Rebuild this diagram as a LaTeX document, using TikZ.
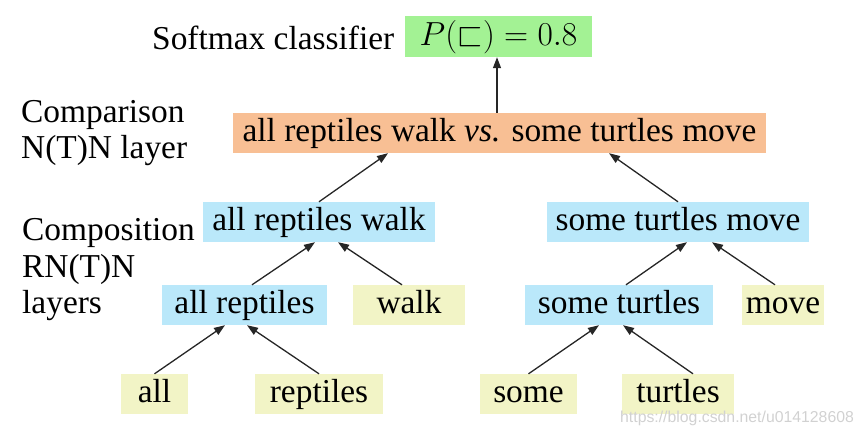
\RequirePackage{fix-cm}
\documentclass[tikz,border=0pt]{standalone}
\usepackage{amssymb}
\usepackage{fontspec}
\setmainfont{Liberation Serif}
\newfontfamily\wmfont{Liberation Sans}
\usetikzlibrary{arrows.meta}
\definecolor{cgreen}{HTML}{A3F294}
\definecolor{corange}{HTML}{F8BF94}
\definecolor{cblue}{HTML}{BAE8FA}
\definecolor{cyellow}{HTML}{F2F4C6}
\begin{document}
\begin{tikzpicture}[x=1pt,y=-1pt,
  box/.style={inner sep=0pt, minimum height=40pt, text height=28pt, text depth=12pt,
              font=\fontsize{33.4}{40}\selectfont},
  gbox/.style={box, fill=cgreen, minimum height=41pt, text height=29pt},
  obox/.style={box, fill=corange},
  bbox/.style={box, fill=cblue},
  ybox/.style={box, fill=cyellow},
  lbl/.style={anchor=base west, inner sep=0pt, font=\fontsize{33.4}{40}\selectfont},
  arr/.style={-{Triangle[length=11pt,width=8pt]}, line width=1.3pt, draw=black!85}
]
\useasboundingbox (0,0) rectangle (864,437);

% side labels
\node[lbl] (softmax) at (152,49) {Softmax classifier};
\node[lbl] (cmp1) at (21,122) {Comparison};
\node[lbl] (cmp2) at (21,158) {N(T)N layer};
\node[lbl] (cps1) at (22,240) {Composition};
\node[lbl] (cps2) at (22,277) {RN(T)N};
\node[lbl] (cps3) at (22,313) {layers};

% nodes
\node[gbox, minimum width=187pt] (green) at (498.5,36.5) {$P(\sqsubset) = 0.8$};
\node[obox, minimum width=533pt] (orange) at (499.5,133) {all reptiles walk \textit{vs.} some turtles move};
\node[bbox, minimum width=232pt] (arw) at (319,222) {all reptiles walk};
\node[bbox, minimum width=262pt] (stm) at (678,222) {some turtles move};
\node[bbox, minimum width=165pt] (ar) at (244.5,305) {all reptiles};
\node[ybox, minimum width=112pt] (walk) at (409,305) {walk};
\node[bbox, minimum width=188pt] (st) at (619,305) {some turtles};
\node[ybox, minimum width=82pt] (move) at (783,305) {move};
\node[ybox, minimum width=67pt] (all) at (154.5,394) {all};
\node[ybox, minimum width=128pt] (rep) at (319,394) {reptiles};
\node[ybox, minimum width=97pt] (some) at (528.5,394) {some};
\node[ybox, minimum width=112pt] (tur) at (678,394) {turtles};

% connectors
\draw[arr] ([xshift=-2.5pt]orange.north) -- ([xshift=-1.5pt]green.south);
\draw[arr] (arw.north) -- ([xshift=-111.5pt]orange.south);
\draw[arr] (stm.north) -- ([xshift=109.5pt]orange.south);
\draw[arr] ([xshift=7.5pt]ar.north) -- ([xshift=-4pt]arw.south);
\draw[arr] ([xshift=-7pt]walk.north) -- ([xshift=19pt]arw.south);
\draw[arr] ([xshift=7pt]st.north) -- ([xshift=9pt]stm.south);
\draw[arr] ([xshift=-8pt]move.north) -- ([xshift=34pt]stm.south);
\draw[arr] (all.north) -- ([xshift=-19.5pt]ar.south);
\draw[arr] (rep.north) -- ([xshift=2.5pt]ar.south);
\draw[arr] (some.north) -- ([xshift=-20pt]st.south);
\draw[arr] ([xshift=15pt]tur.north) -- ([xshift=4pt]st.south);

% watermark
\node[anchor=base west, inner sep=0pt, text=black!18, font=\wmfont\fontsize{15.8}{18}\selectfont] (wm) at (620,422) {https://blog.csdn.net/u014128608};
\end{tikzpicture}
\end{document}
